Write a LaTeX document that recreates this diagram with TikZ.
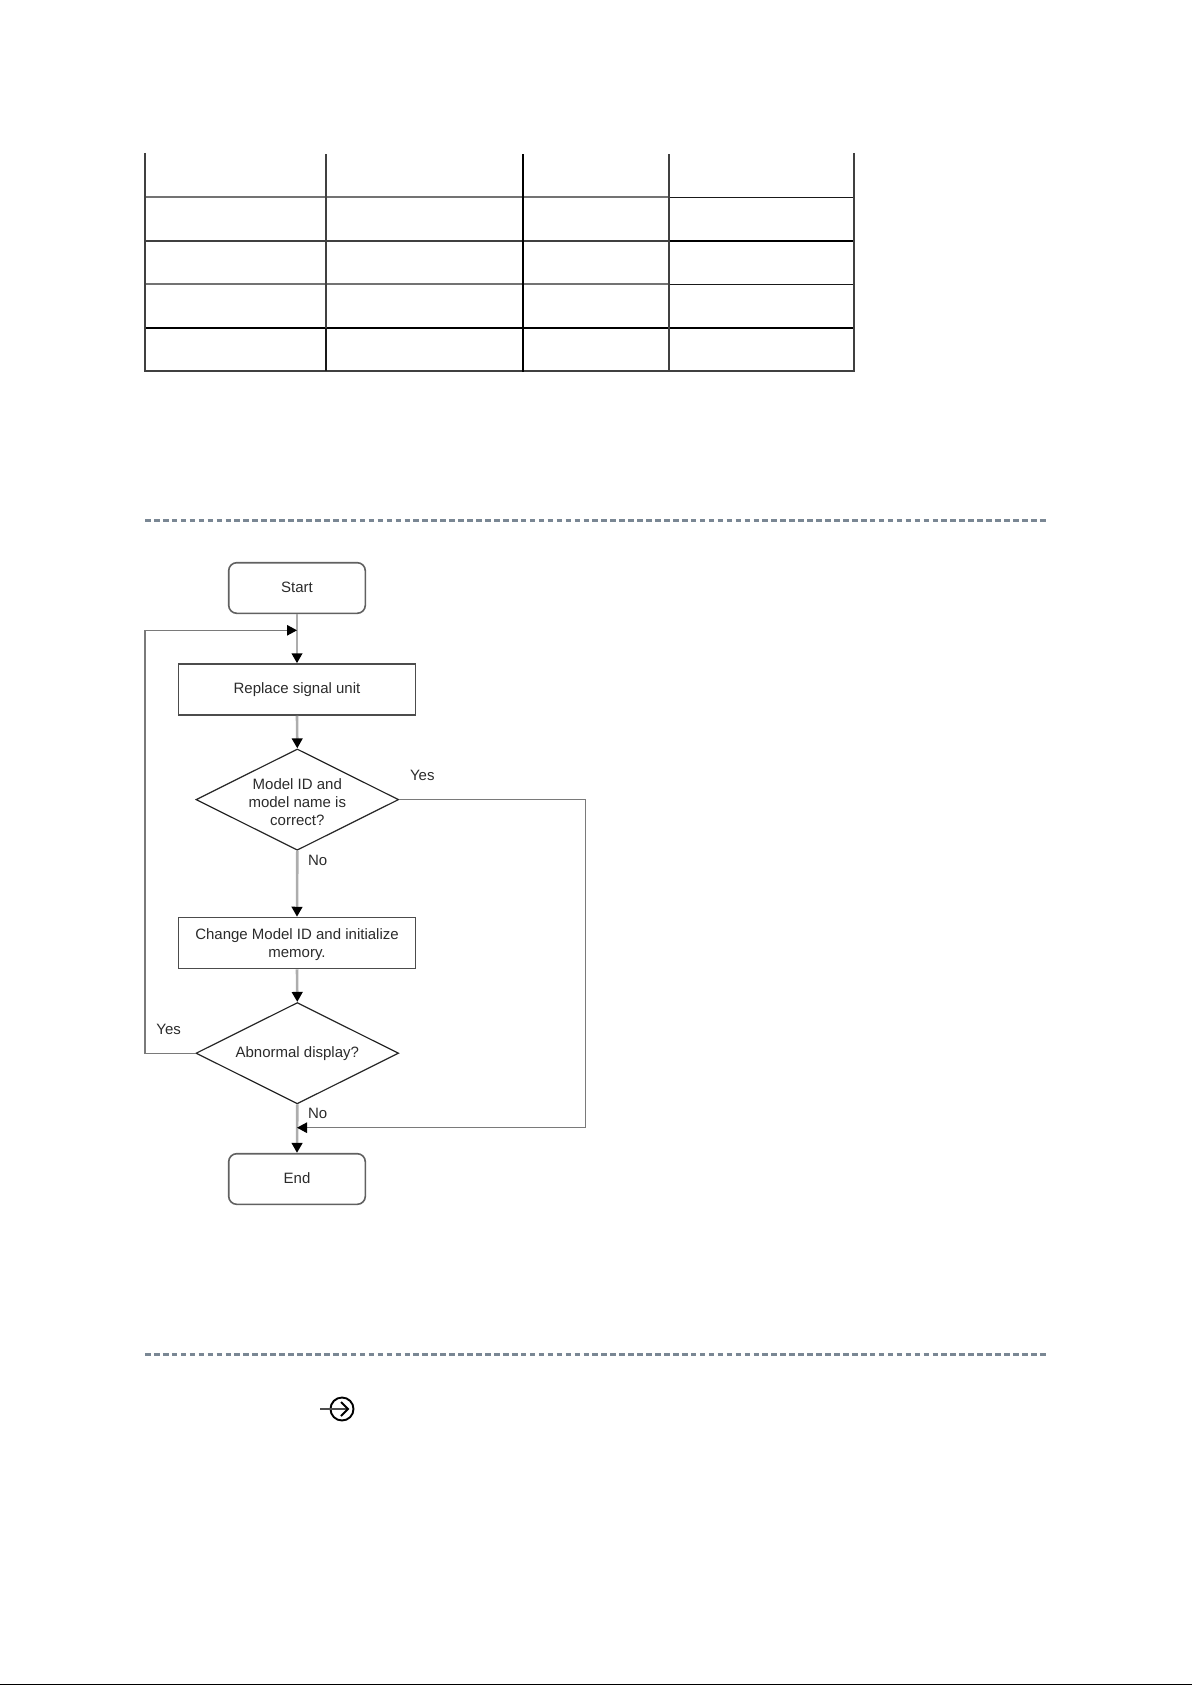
\documentclass[tikz,border=0pt]{standalone}
\usepackage{fontspec}
\setmainfont{Liberation Sans}
\usetikzlibrary{shapes.geometric,arrows.meta}
\definecolor{txt}{HTML}{2B2B2B}
\definecolor{dashc}{HTML}{7A8794}
\tikzset{
  baseshape/.style={font=\fontsize{15}{18}\selectfont, text=txt, align=center, anchor=center},
  termbox/.style={baseshape, draw=black!62, line width=1.6pt, rounded corners=8pt, minimum width=136.6pt, minimum height=50.6pt, inner sep=0pt},
  procbox/.style={baseshape, draw=black!70, line width=1.5pt, minimum width=237.4pt, minimum height=51pt, inner sep=0pt},
  decide/.style={baseshape, draw=black!85, line width=1.2pt, diamond, aspect=2, minimum width=202.7pt, minimum height=101.3pt, inner sep=-2pt},
  lab/.style={baseshape},
  inner/.style={baseshape, inner sep=0pt, yshift=#1},
  axisflow/.style={draw=black!32, line width=2.6pt, -{Triangle[length=10pt,width=10.5pt,color=black]}},
  sideflow/.style={draw=black!52, line width=1.2pt, -{Triangle[length=10pt,width=10.5pt,color=black]}},
  sep/.style={draw=dashc, line width=3pt, dash pattern=on 5.6pt off 3.349pt},
  tblthin/.style={draw=black!90, line width=1.1pt},
  tblmid/.style={draw=black!75, line width=1.7pt},
  tblbold/.style={draw=black, line width=2.1pt},
  tblsoft/.style={draw=black!55, line width=2pt},
}
\begin{document}
\begin{tikzpicture}[x=1pt,y=-1pt]
\useasboundingbox (0,0) rectangle (1192,1685);

% table rules
\foreach \yy/\ls/\rs in {197.3/tblsoft/tblthin,240.7/tblmid/tblbold,284.3/tblsoft/tblthin,328/tblbold/tblbold,371/tblmid/tblmid}{
  \draw[\ls] (145,\yy) -- (669,\yy);
  \draw[\rs] (669,\yy) -- (854,\yy);
}
\draw[tblmid] (145.2,153) -- (145.2,372);
\draw[tblmid] (326,154.5) -- (326,328);
\draw[tblthin] (326,328) -- (326,371);
\draw[tblbold] (522.8,154.5) -- (522.8,372);
\draw[tblmid] (669.2,154.5) -- (669.2,372);
\draw[tblmid] (854,153) -- (854,372);

% separators
\draw[sep] (145,520) -- (1045.5,520);
\draw[sep] (145,1354.3) -- (1045.5,1354.3);

% flowchart
\node[termbox, label={[inner=1pt]center:Start}] (start) at (297,588) {};
\node[procbox] (replace) at (297,689.5) {Replace signal unit};
\node[decide, label={[inner=-3pt]center:Model ID and\\model name is\\correct?}] (check) at (297.3,799.6) {};
\node[procbox, label={[inner=-2pt]center:Change Model ID and initialize\\memory.}] (change) at (297,943) {};
\node[decide] (abnormal) at (297.3,1053.2) {Abnormal display?};
\node[termbox, label={[inner=1pt]center:End}] (finish) at (297,1179) {};

\coordinate (joinA) at (297,630.3);
\coordinate (joinB) at (297,1127.7);
\coordinate (loopL) at (145,1053.2);
\coordinate (loopT) at (145,630.3);
\coordinate (bypassT) at (585.3,799.6);
\coordinate (bypassB) at (585.3,1127.7);

\draw[axisflow] (start.south) -- (replace.north);
\draw[axisflow] (replace.south) -- (check.north);
\draw[axisflow] (check.south) -- (change.north);
\draw[axisflow] (change.south) -- (abnormal.north);
\draw[axisflow] (abnormal.south) -- (finish.north);
\draw[sideflow] (abnormal.west) -- (loopL) -- (loopT) -- (joinA);
\draw[sideflow] (check.east) -- (bypassT) -- (bypassB) -- (joinB);

\node[lab] (yesA) at (422.3,775.7) {Yes};
\node[lab] (noA) at (317.7,860) {No};
\node[lab] (yesB) at (168.7,1029) {Yes};
\node[lab] (noB) at (317.7,1113.7) {No};

% reference icon
\draw[black, line width=1.9pt] (342,1409) circle[radius=11.5pt];
\draw[black!70, line width=2.2pt] (320,1409) -- (347,1409);
\draw[black, line width=2pt] (341,1402) -- (348,1409) -- (341,1416);

% bottom edge
\draw[black, line width=1.4pt] (0,1684.4) -- (1192,1684.4);
\end{tikzpicture}
\end{document}
